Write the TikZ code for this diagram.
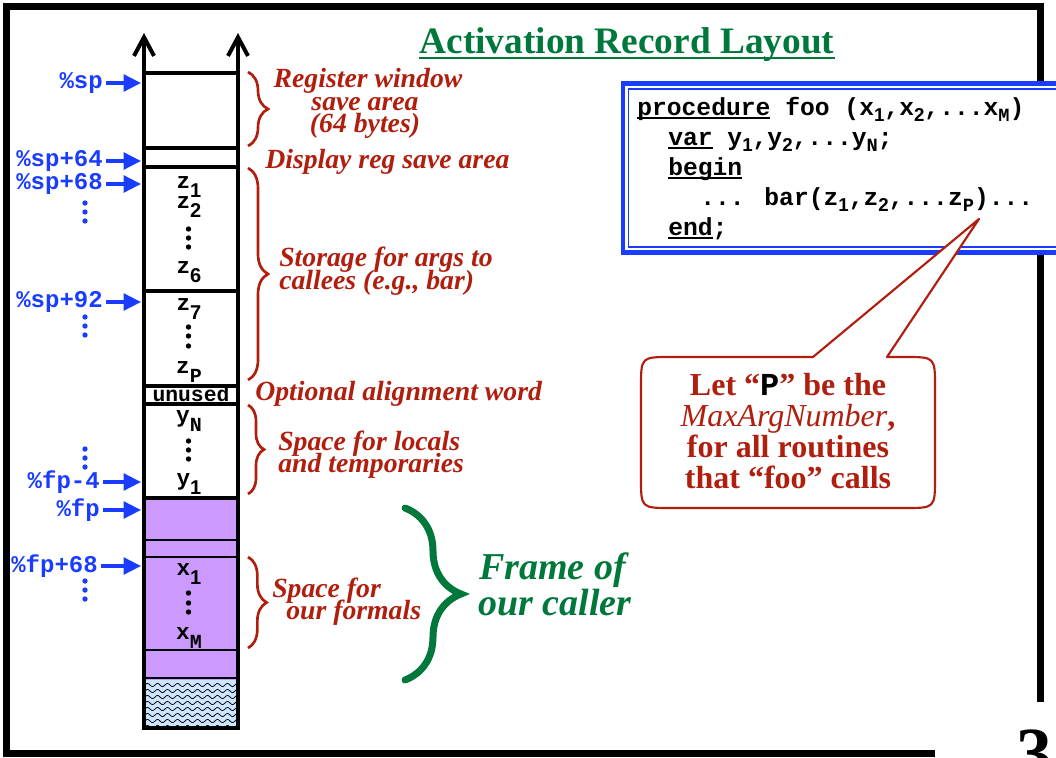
\documentclass[tikz,border=0pt]{standalone}
\usepackage{fontspec}
\setmainfont{Liberation Serif}
\newfontfamily\monofont{Liberation Mono}
\newfontfamily\sansfont{Liberation Sans}
\usetikzlibrary{arrows.meta,decorations.pathreplacing}

\definecolor{labelred}{RGB}{176,30,14}
\definecolor{titlegreen}{RGB}{0,120,60}
\definecolor{regblue}{RGB}{25,60,255}
\definecolor{callerpurple}{RGB}{204,153,255}
\definecolor{hatchblue}{RGB}{205,230,255}

% subscripts: digits in sans, letters in the current (mono) face
\newcommand\subnum[3][14]{\raisebox{#2}{\sansfont\bfseries\fontsize{#1}{#1}\selectfont #3}}
\newcommand\sublet[3][14]{\raisebox{#2}{\fontsize{#1}{#1}\selectfont #3}}
% keyword with a flat underline
\newcommand\kw[1]{\setbox0\hbox{#1}\rlap{\rule[-3pt]{\wd0}{1.4pt}}\box0\relax}

\begin{document}
\begin{tikzpicture}[x=0.75pt,y=-0.75pt,
  redtxt/.style={text=labelred, font=\fontsize{20.8}{20.8}\selectfont\bfseries\itshape, inner sep=0pt, anchor=base west},
  bluetxt/.style={text=regblue, font=\monofont\bfseries\fontsize{18}{18}\selectfont, inner sep=0pt, anchor=east},
  regarrow/.style={draw=regblue, line width=2.6pt, shorten <=2.5pt, -{Triangle[length=13pt,width=12.5pt]}},
  cell/.style={font=\monofont\bfseries\fontsize{17}{17}\selectfont, inner sep=0pt, anchor=base},
  codeline/.style={font=\monofont\bfseries\fontsize{18.5}{18.5}\selectfont, inner sep=0pt, anchor=base west},
  calltxt/.style={text=labelred, font=\fontsize{24}{24}\selectfont\bfseries, inner sep=0pt, anchor=base},
  frametxt/.style={text=titlegreen, font=\fontsize{28.5}{28.5}\selectfont\bfseries\itshape, inner sep=0pt, anchor=base west},
  stackline/.style={line width=3pt},
  slotline/.style={line width=0.9pt},
  redbrace/.style={draw=labelred, line width=2pt, decorate, decoration={brace, amplitude=#1}},
  greenbrace/.style={draw=titlegreen, line width=5.25pt, line cap=round, decorate, decoration={brace, amplitude=42pt}},
  bluedot/.style={fill=regblue},
  blackdot/.style={fill=black},
]
\useasboundingbox (0,0) rectangle (1056,757);
\clip (0,0) rectangle (1056,757);

% slide frame
\draw[line width=5.25pt] (1040.5,702) -- (1040.5,6.5) -- (6.5,6.5) -- (6.5,753.5) -- (935,753.5);

% title
\node[text=titlegreen, font=\fontsize{28}{28}\selectfont\bfseries, inner sep=0pt, anchor=base] (title) at (627,53) {Activation Record Layout};
\draw[titlegreen, line width=1.6pt] (title.base west) ++(0,5) -- ([yshift=-3.75pt]title.base east);

% ---- the stack column ----
% caller's frame and the area beyond it
\fill[callerpurple] (144,498) rectangle (238,680);
\fill[hatchblue] (144,680) rectangle (238,728);
\begin{scope}
  \clip (145,681) rectangle (237,727);
  \foreach \yy in {685,691,...,727}
    \draw[line width=0.55pt] plot[domain=144:238, samples=80, smooth] (\x,{\yy+1.6*sin(36*\x)});
\end{scope}
\foreach \yy in {540,557,650,678}
  \draw[slotline] (144,\yy) -- (238,\yy);
\foreach \yy in {73,148,167,291,386,404,498}
  \draw[stackline] (144,\yy) -- (238,\yy);
\draw[stackline] (144,728) -- (238,728);
\draw[stackline, -{Straight Barb[length=14pt,width=15pt]}] (144,729.5) -- (144,33);
\draw[stackline, -{Straight Barb[length=14pt,width=15pt]}] (238,729.5) -- (238,33);

% slot contents
\node[cell] (z1) at (189,188) {z\subnum[15]{-7pt}{1}};
\node[cell] (z2) at (189,208) {z\subnum[15]{-7pt}{2}};
\node[cell] (z6) at (189,273) {z\subnum[15]{-7pt}{6}};
\node[cell] (z7) at (189,310) {z\subnum[15]{-7pt}{7}};
\node[cell] (zP) at (189,373) {z\sublet[15]{-7pt}{P}};
\node[cell, font=\monofont\bfseries\fontsize{16}{16}\selectfont] (unused) at (191,401) {unused};
\node[cell] (yN) at (189,422) {y\sublet[15]{-7pt}{N}};
\node[cell] (y1) at (189,485) {y\subnum[15]{-7pt}{1}};
\node[cell] (x1) at (189,575) {x\subnum[15]{-7pt}{1}};
\node[cell] (xM) at (189,639) {x\sublet[15]{-7pt}{M}};
\foreach \yy in {229,238,247, 327,336,346, 441,450,459, 593,603,612}
  \fill[blackdot] (188.5,\yy) circle[radius=2.7];

% register labels pointing into the stack
\node[bluetxt] (sp)   at (103,83)  {\%sp};
\node[bluetxt] (sp64) at (103,161) {\%sp+64};
\node[bluetxt] (sp68) at (103,184) {\%sp+68};
\node[bluetxt] (sp92) at (103,302) {\%sp+92};
\node[bluetxt] (fpm4) at (100,482) {\%fp-4};
\node[bluetxt] (fp)   at (100,510) {\%fp};
\node[bluetxt] (fp68) at (98,566)  {\%fp+68};
\coordinate (at-sp)   at (141,83);
\coordinate (at-sp64) at (141,161);
\coordinate (at-sp68) at (141,184);
\coordinate (at-sp92) at (141,302);
\coordinate (at-fpm4) at (141,482);
\coordinate (at-fp)   at (141,510);
\coordinate (at-fp68) at (141,566);
\foreach \r in {sp,sp64,sp68,sp92,fpm4,fp,fp68}
  \draw[regarrow] (\r) -- (at-\r);
\foreach \yy in {203,212,221, 317,326,335, 449,458,467, 581,590,599}
  \fill[bluedot] (85,\yy) circle[radius=2.7];

% ---- annotations ----
\coordinate (b1a) at (248,72);  \coordinate (b1b) at (248,146);
\coordinate (b2a) at (248,168); \coordinate (b2b) at (248,380);
\coordinate (b3a) at (248,405); \coordinate (b3b) at (248,494);
\coordinate (b4a) at (248,557); \coordinate (b4b) at (248,648);
\draw[redbrace=15pt] (b1a) -- (b1b);
\draw[redbrace=15pt] (b2a) -- (b2b);
\draw[redbrace=12pt] (b3a) -- (b3b);
\draw[redbrace=14pt] (b4a) -- (b4b);

\node[redtxt, anchor=base] (rw1) at (368,87)  {Register window};
\node[redtxt, anchor=base] (rw2) at (365,110) {save area};
\node[redtxt, anchor=base] (rw3) at (365,132) {(64 bytes)};
\node[redtxt] (disp) at (265,168) {Display reg save area};
\node[redtxt] (st1) at (279,266) {Storage for args to};
\node[redtxt] (st2) at (279,289) {callees (e.g., bar)};
\node[redtxt] (opt) at (255,400) {Optional alignment word};
\node[redtxt] (lo1) at (278,450) {Space for locals};
\node[redtxt] (lo2) at (278,472) {and temporaries};
\node[redtxt] (fo1) at (272,597) {Space for};
\node[redtxt] (fo2) at (286,619) {our formals};

\coordinate (gba) at (405,508); \coordinate (gbb) at (405,680);
\draw[greenbrace] (gba) -- (gbb);
\node[frametxt] (fr1) at (479,579) {Frame of};
\node[frametxt] (fr2) at (478,615) {our caller};

% ---- source code box ----
\draw[regblue, line width=3.4pt, fill=white] (623,83.5) rectangle (1075,252.5);
\draw[regblue, line width=1.1pt] (628.5,89) rectangle (1075,247);
\node[codeline] (c1) at (637,115) {\kw{procedure} foo (x\subnum{-5pt}{1},x\subnum{-5pt}{2},...x\sublet{-5pt}{M})};
\node[codeline] (c2) at (668,145) {\kw{var} y\subnum{-5pt}{1},y\subnum{-5pt}{2},...y\sublet{-5pt}{N};};
\node[codeline] (c3) at (668,175) {\kw{begin}};
\node[codeline] (c4) at (700,205) {... bar(z\subnum{-5pt}{1},z\subnum{-5pt}{2},...z\sublet{-5pt}{P})...};
\node[codeline] (c5) at (668,235) {\kw{end};};
\coordinate (ptip) at (979,219);

% ---- callout ----
\draw[labelred, line width=1.6pt, fill=white, line join=round]
  (813,357) -- (ptip) -- (887,357) -- (905,357) .. controls (935,357) .. (935,387)
  -- (935,478) .. controls (935,508) .. (905,508) -- (671,508)
  .. controls (641,508) .. (641,478) -- (641,387) .. controls (641,357) .. (671,357) -- cycle;
\node[calltxt] (m1) at (788,395) {Let “{\monofont\color{black}P}” be the};
\node[calltxt] (m2) at (788,426) {{\mdseries\itshape MaxArgNumber},};
\node[calltxt] (m3) at (788,457) {for all routines};
\node[calltxt] (m4) at (788,488) {that “foo” calls};

% slide number
\node[font=\fontsize{54}{54}\selectfont\bfseries, inner sep=0pt, anchor=base west] (pgno) at (1016,777) {3};
\end{tikzpicture}
\end{document}
